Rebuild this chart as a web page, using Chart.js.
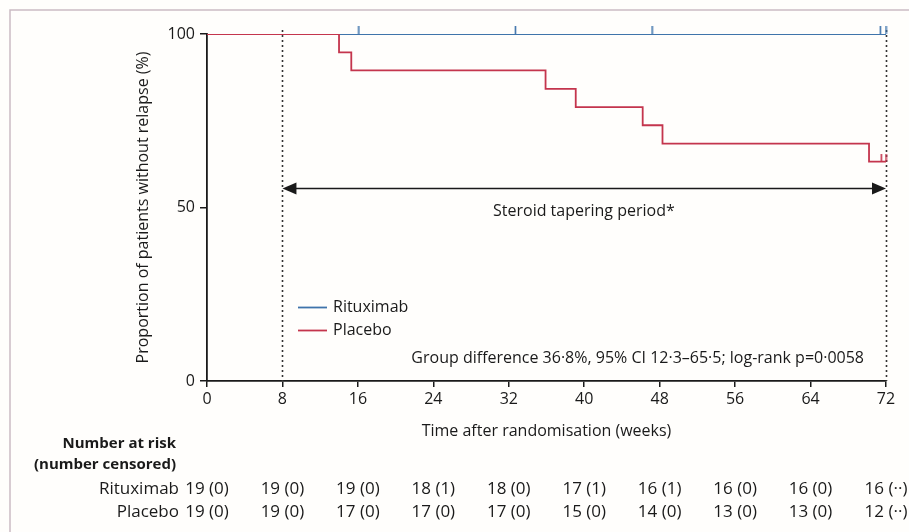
<!DOCTYPE html>
<html>
<head>
<meta charset="utf-8">
<script src="https://cdn.jsdelivr.net/npm/chart.js@4.4.1/dist/chart.umd.min.js"></script>
<style>
  html, body { margin: 0; padding: 0; background: #fffefc; }
  #wrap { width: 909px; height: 532px; }
</style>
</head>
<body>
<div id="wrap"><canvas id="kmChart" width="909" height="532"></canvas></div>
<script>
// Kaplan-Meier data (weeks, % without relapse)
const rituximabWeeks = [0, 72];
const rituximabPct = [100, 100];
const placeboWeeks = [0, 14, 15.3, 35.9, 39.1, 46.2, 48.3, 70.2, 72];
const placeboPct = [100, 94.7, 89.5, 84.2, 78.9, 73.7, 68.4, 63.2, 63.2];

// censor marks
const rituximabCensorWeeks = [16.1, 32.7, 47.2, 71.4, 72];
const rituximabCensorPct = [100, 100, 100, 100, 100];
const placeboCensorWeeks = [71.5, 72];
const placeboCensorPct = [63.2, 63.2];

// steroid tapering period arrow
const taperStart = 8;
const taperEnd = 72;
const taperLevel = 55.6;

// number at risk table
const riskWeeks = [0, 8, 16, 24, 32, 40, 48, 56, 64, 72];
const rituximabRisk = ['19 (0)', '19 (0)', '19 (0)', '18 (1)', '18 (0)', '17 (1)', '16 (1)', '16 (0)', '16 (0)', '16 (··)'];
const placeboRisk = ['19 (0)', '19 (0)', '17 (0)', '17 (0)', '17 (0)', '15 (0)', '14 (0)', '13 (0)', '13 (0)', '12 (··)'];

const BLUE = '#3f74ab';
const RED = '#c4354d';
const INK = '#1a1a1a';
const FONT = "'Open Sans', 'DejaVu Sans', sans-serif";

function toPoints(xs, ys) {
    return xs.map((x, i) => ({ x: x, y: ys[i] }));
}

// small upward tick used as the censor marker
function censorMark(color) {
    const c = document.createElement('canvas');
    c.width = 3;
    c.height = 16;
    const g = c.getContext('2d');
    g.strokeStyle = color;
    g.lineWidth = 1.6;
    g.beginPath();
    g.moveTo(1.5, 0);
    g.lineTo(1.5, 8);
    g.stroke();
    return c;
}

const decorPlugin = {
    id: 'decor',
    beforeDraw(chart) {
        const ctx = chart.ctx;
        ctx.save();
        ctx.fillStyle = '#fffefc';
        ctx.fillRect(0, 0, chart.width, chart.height);
        ctx.strokeStyle = '#cbbcc3';
        ctx.lineWidth = 1.5;
        ctx.beginPath();
        ctx.moveTo(10, chart.height);
        ctx.lineTo(10, 10);
        ctx.lineTo(chart.width, 10);
        ctx.stroke();
        ctx.restore();
    },
    beforeDatasetsDraw(chart) {
        const { ctx, scales: { x, y } } = chart;
        ctx.save();
        // dotted markers for the tapering window
        ctx.strokeStyle = '#333';
        ctx.lineWidth = 1.6;
        ctx.setLineDash([2, 3]);
        [taperStart, taperEnd].forEach(w => {
            const px = Math.round(x.getPixelForValue(w)) + 0.5;
            ctx.beginPath();
            ctx.moveTo(px, y.getPixelForValue(100) - 4);
            ctx.lineTo(px, y.getPixelForValue(0));
            ctx.stroke();
        });
        ctx.setLineDash([]);

        // double-headed arrow
        const ay = Math.round(y.getPixelForValue(taperLevel)) + 0.5;
        const x1 = x.getPixelForValue(taperStart);
        const x2 = x.getPixelForValue(taperEnd);
        ctx.strokeStyle = INK;
        ctx.fillStyle = INK;
        ctx.lineWidth = 1.5;
        ctx.beginPath();
        ctx.moveTo(x1 + 8, ay);
        ctx.lineTo(x2 - 8, ay);
        ctx.stroke();
        ctx.beginPath();
        ctx.moveTo(x1, ay);
        ctx.lineTo(x1 + 14, ay - 6);
        ctx.lineTo(x1 + 14, ay + 6);
        ctx.closePath();
        ctx.fill();
        ctx.beginPath();
        ctx.moveTo(x2, ay);
        ctx.lineTo(x2 - 14, ay - 6);
        ctx.lineTo(x2 - 14, ay + 6);
        ctx.closePath();
        ctx.fill();

        ctx.font = '16px ' + FONT;
        ctx.textBaseline = 'middle';
        ctx.textAlign = 'left';
        ctx.fillStyle = INK;
        ctx.fillText('Steroid tapering period*', 493, ay + 23);
        ctx.restore();
    },
    afterDraw(chart) {
        const { ctx, scales: { x } } = chart;
        ctx.save();
        ctx.textBaseline = 'middle';

        // legend
        const items = [['Rituximab', BLUE, 307], ['Placebo', RED, 330]];
        items.forEach(([label, color, ly]) => {
            ctx.strokeStyle = color;
            ctx.lineWidth = 1.8;
            ctx.beginPath();
            ctx.moveTo(298, ly + 0.5);
            ctx.lineTo(327, ly + 0.5);
            ctx.stroke();
            ctx.fillStyle = INK;
            ctx.font = '16px ' + FONT;
            ctx.textAlign = 'left';
            ctx.fillText(label, 333, ly);
        });

        // statistics
        ctx.textAlign = 'right';
        ctx.fillText('Group difference 36·8%, 95% CI 12·3–65·5; log-rank p=0·0058', 864, 358);

        // number at risk table
        ctx.font = 'bold 15px ' + FONT;
        ctx.fillText('Number at risk', 176, 444);
        ctx.fillText('(number censored)', 176, 465);
        ctx.font = '17px ' + FONT;
        ctx.fillText('Rituximab', 179, 489);
        ctx.fillText('Placebo', 179, 512);
        ctx.textAlign = 'center';
        riskWeeks.forEach((w, i) => {
            const px = x.getPixelForValue(w);
            ctx.fillText(rituximabRisk[i], px, 489);
            ctx.fillText(placeboRisk[i], px, 512);
        });
        ctx.restore();
    }
};

const ctx = document.getElementById('kmChart').getContext('2d');
const kmChart = new Chart(ctx, {
    type: 'line',
    data: {
        datasets: [
            {
                label: 'Placebo',
                data: toPoints(placeboWeeks, placeboPct),
                borderColor: RED,
                borderWidth: 1.8,
                stepped: true,
                pointRadius: 0,
                order: 0
            },
            {
                label: 'Rituximab',
                data: toPoints(rituximabWeeks, rituximabPct),
                borderColor: BLUE,
                borderWidth: 1.8,
                stepped: true,
                pointRadius: 0,
                order: 1
            },
            {
                label: 'Rituximab censored',
                data: toPoints(rituximabCensorWeeks, rituximabCensorPct),
                showLine: false,
                pointStyle: censorMark(BLUE),
                pointRadius: 8,
                clip: false,
                order: 2
            },
            {
                label: 'Placebo censored',
                data: toPoints(placeboCensorWeeks, placeboCensorPct),
                showLine: false,
                pointStyle: censorMark(RED),
                pointRadius: 8,
                clip: false,
                order: 2
            }
        ]
    },
    options: {
        responsive: false,
        animation: false,
        layout: { padding: { left: 134, right: 23, top: 34, bottom: 91 } },
        plugins: {
            legend: { display: false },
            tooltip: { enabled: false }
        },
        scales: {
            x: {
                type: 'linear',
                min: 0,
                max: 72,
                ticks: { stepSize: 8, color: INK, font: { family: FONT, size: 16 }, padding: 3 },
                grid: { drawOnChartArea: false, drawTicks: true, tickLength: 6, color: INK, lineWidth: 1.5 },
                border: { display: true, color: INK, width: 1.8 },
                title: {
                    display: true,
                    text: 'Time after randomisation (weeks)',
                    color: INK,
                    font: { family: FONT, size: 16 },
                    padding: { top: 0, bottom: 0 }
                },
                afterFit: s => { s.height = 60; }
            },
            y: {
                min: 0,
                max: 100,
                ticks: { stepSize: 50, color: INK, font: { family: FONT, size: 16 }, padding: 5 },
                grid: { drawOnChartArea: false, drawTicks: true, tickLength: 7, color: INK, lineWidth: 1.5 },
                border: { display: true, color: INK, width: 1.8 },
                title: {
                    display: true,
                    text: 'Proportion of patients without relapse (%)',
                    color: INK,
                    font: { family: FONT, size: 16 },
                    padding: { top: 0, bottom: 0 }
                },
                afterFit: s => { s.width = 73; }
            }
        }
    },
    plugins: [decorPlugin]
});
</script>
</body>
</html>
